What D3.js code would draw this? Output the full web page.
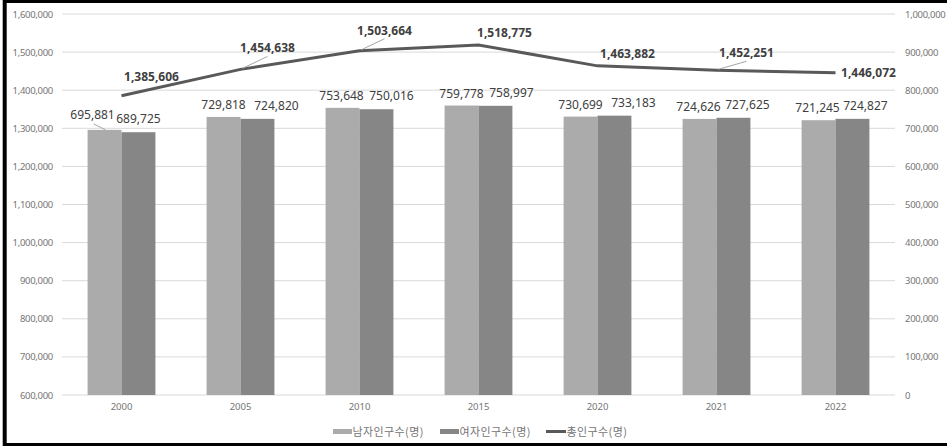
<!DOCTYPE html>
<html>
<head>
<meta charset="utf-8">
<script src="https://cdn.jsdelivr.net/npm/d3@7"></script>
<style>
  body { margin: 0; background: #fff; }
  svg text { font-family: "Noto Sans", "Noto Sans CJK KR", sans-serif; }
</style>
</head>
<body>
<div id="chart"></div>
<script>
// Data
const years = ["2000", "2005", "2010", "2015", "2020", "2021", "2022"];
const male = [695881, 729818, 753648, 759778, 730699, 724626, 721245];
const female = [689725, 724820, 750016, 758997, 733183, 727625, 724827];
const total = [1385606, 1454638, 1503664, 1518775, 1463882, 1452251, 1446072];
const seriesNames = ["남자인구수(명)", "여자인구수(명)", "총인구수(명)"];
const leftTicks = [600000, 700000, 800000, 900000, 1000000, 1100000, 1200000, 1300000, 1400000, 1500000, 1600000];
const rightTicks = [0, 100000, 200000, 300000, 400000, 500000, 600000, 700000, 800000, 900000, 1000000];

// label nudges (layout only)
const maleLabelDx = [-12, 0, -1, 0, 0, -1, -1];
const femaleLabelDx = [0, 19, 15, 16, 19, 14, 13];
const totalLabelOffset = [[30, -19], [27, -21], [25, -20], [26, -12], [30, -12], [30, -17], [33, 0]];
const totalLeader = [false, true, true, false, false, true, false];

const width = 947, height = 446;
const margin = { top: 14, right: 52, bottom: 51, left: 62 };

const svg = d3.select("#chart").append("svg")
  .attr("width", width)
  .attr("height", height);

const x0 = d3.scaleBand().domain(years).range([margin.left, width - margin.right]);
const bw = x0.bandwidth();
const x1 = d3.scaleBand().domain(["m", "f"]).range([bw * 0.215, bw * 0.785]);

const yLeft = d3.scaleLinear().domain([600000, 1600000]).range([height - margin.bottom, margin.top]);
const yRight = d3.scaleLinear().domain([0, 1000000]).range([height - margin.bottom, margin.top]);

const fmt = d3.format(",");

// gridlines
svg.append("g").selectAll("line")
  .data(leftTicks)
  .enter().append("line")
  .attr("x1", margin.left)
  .attr("x2", width - margin.right)
  .attr("y1", d => yLeft(d))
  .attr("y2", d => yLeft(d))
  .attr("stroke", "#d9d9d9")
  .attr("stroke-width", 1);

// left axis
const gl = svg.append("g")
  .attr("transform", `translate(${margin.left},0)`)
  .call(d3.axisLeft(yLeft).tickValues(leftTicks).tickSize(0).tickPadding(9).tickFormat(fmt));
gl.select(".domain").remove();
gl.selectAll("text").attr("fill", "#757575").style("font-size", "9.5px").style("letter-spacing", "-0.3px");

// right axis
const gr = svg.append("g")
  .attr("transform", `translate(${width - margin.right},0)`)
  .call(d3.axisRight(yRight).tickValues(rightTicks).tickSize(0).tickPadding(10).tickFormat(fmt));
gr.select(".domain").remove();
gr.selectAll("text").attr("fill", "#757575").style("font-size", "9.5px").style("letter-spacing", "-0.3px");

// bottom axis
const gb = svg.append("g")
  .attr("transform", `translate(0,${height - margin.bottom})`)
  .call(d3.axisBottom(x0).tickSize(0).tickPadding(8));
gb.select(".domain").remove();
gb.selectAll("text").attr("fill", "#757575").style("font-size", "9.5px");

// bars
const groups = svg.append("g").selectAll("g")
  .data(years)
  .enter().append("g")
  .attr("transform", d => `translate(${x0(d)},0)`);

groups.append("rect")
  .attr("x", x1("m"))
  .attr("width", x1.bandwidth())
  .attr("y", (d, i) => yRight(male[i]))
  .attr("height", (d, i) => yRight(0) - yRight(male[i]))
  .attr("fill", "#ababab");

groups.append("rect")
  .attr("x", x1("f"))
  .attr("width", x1.bandwidth())
  .attr("y", (d, i) => yRight(female[i]))
  .attr("height", (d, i) => yRight(0) - yRight(female[i]))
  .attr("fill", "#868686");

// bar labels
groups.append("text")
  .attr("x", (d, i) => x1("m") + x1.bandwidth() / 2 + maleLabelDx[i])
  .attr("y", (d, i) => yRight(male[i]) - (i === 0 ? 11 : 8))
  .attr("text-anchor", "middle")
  .attr("fill", "#404040")
  .style("font-size", "12px")
  .text((d, i) => fmt(male[i]));

groups.append("text")
  .attr("x", (d, i) => x1("f") + x1.bandwidth() / 2 + femaleLabelDx[i])
  .attr("y", (d, i) => yRight(female[i]) - 9)
  .attr("text-anchor", "middle")
  .attr("fill", "#404040")
  .style("font-size", "12px")
  .text((d, i) => fmt(female[i]));

// leader for 2000 male label
svg.append("line")
  .attr("x1", x0(years[0]) + x1("m") + x1.bandwidth() / 2 - 11)
  .attr("y1", yRight(male[0]) - 6)
  .attr("x2", x0(years[0]) + x1("m") + x1.bandwidth() / 2 + 1)
  .attr("y2", yRight(male[0]))
  .attr("stroke", "#a6a6a6")
  .attr("stroke-width", 1);

// total line
const cx = d => x0(d) + bw / 2;
const line = d3.line()
  .x((d, i) => cx(years[i]))
  .y(d => yLeft(d));

svg.append("path")
  .datum(total)
  .attr("d", line)
  .attr("fill", "none")
  .attr("stroke", "#595959")
  .attr("stroke-width", 3);

// leaders for total labels
svg.append("g").selectAll("line")
  .data(total.map((v, i) => i).filter(i => totalLeader[i]))
  .enter().append("line")
  .attr("x1", i => cx(years[i]) + totalLabelOffset[i][0])
  .attr("y1", i => yLeft(total[i]) + totalLabelOffset[i][1] + 8)
  .attr("x2", i => cx(years[i]) + 2)
  .attr("y2", i => yLeft(total[i]) - 1)
  .attr("stroke", "#a6a6a6")
  .attr("stroke-width", 1);

svg.append("g").selectAll("text")
  .data(total)
  .enter().append("text")
  .attr("x", (d, i) => cx(years[i]) + totalLabelOffset[i][0])
  .attr("y", (d, i) => yLeft(d) + totalLabelOffset[i][1] + 4)
  .attr("text-anchor", "middle")
  .attr("fill", "#404040")
  .style("font-size", "12px")
  .style("font-weight", "bold")
  .text(d => fmt(d));

// legend
const legendY = 431.5;
const legendItems = [
  { name: seriesNames[0], x: 333, type: "rect", color: "#ababab" },
  { name: seriesNames[1], x: 440, type: "rect", color: "#868686" },
  { name: seriesNames[2], x: 546, type: "line", color: "#595959" }
];
const lg = svg.append("g").selectAll("g")
  .data(legendItems)
  .enter().append("g")
  .attr("transform", d => `translate(${d.x},${legendY})`);

lg.filter(d => d.type === "rect").append("rect")
  .attr("x", 0).attr("y", -2.5)
  .attr("width", 19).attr("height", 5)
  .attr("fill", d => d.color);

lg.filter(d => d.type === "line").append("line")
  .attr("x1", 0).attr("x2", 20)
  .attr("y1", 0).attr("y2", 0)
  .attr("stroke", d => d.color)
  .attr("stroke-width", 3);

lg.append("text")
  .attr("x", d => d.type === "line" ? 20.5 : 19.5)
  .attr("y", 4)
  .attr("fill", "#757575")
  .style("font-family", "'Noto Sans CJK KR', sans-serif")
  .style("font-size", "11px")
  .style("letter-spacing", "0.4px")
  .text(d => d.name);

// outer frame (top, left, bottom)
svg.append("rect")
  .attr("x", 4.7)
  .attr("y", 1)
  .attr("width", 1000)
  .attr("height", 444)
  .attr("fill", "none")
  .attr("stroke", "#000")
  .attr("stroke-width", 4);
</script>
</body>
</html>
